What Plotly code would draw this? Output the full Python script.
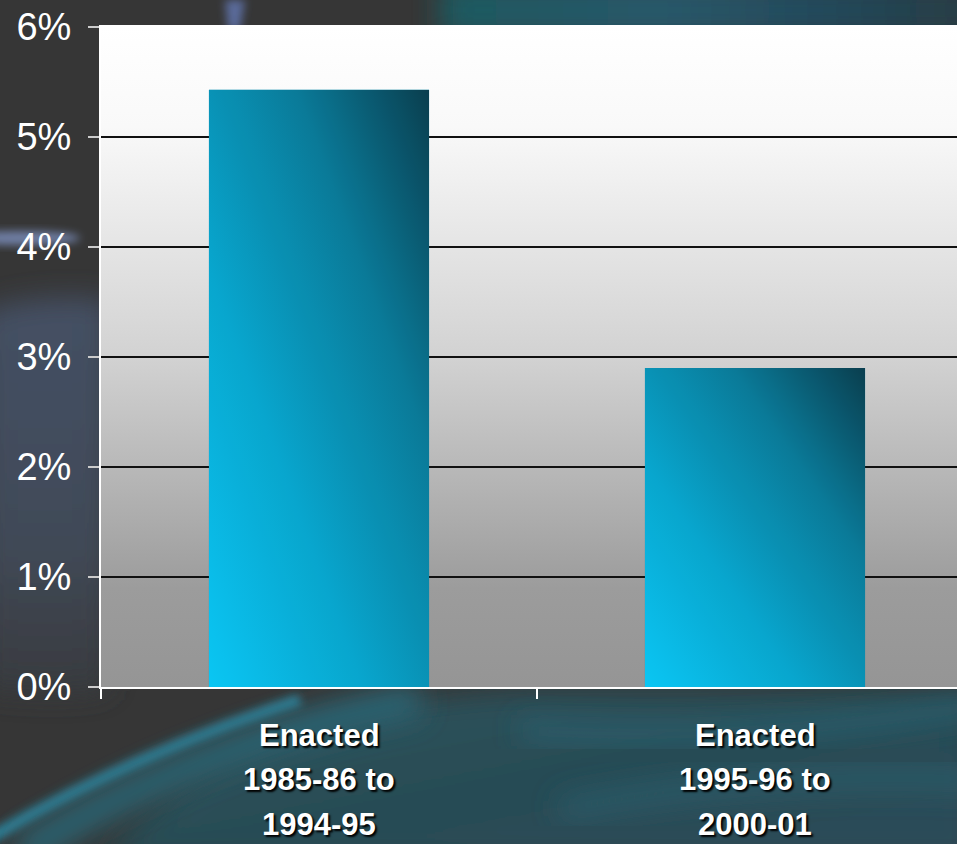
import base64
import plotly.graph_objects as go

# data
categories = ["Enacted<br>1985-86 to<br>1994-95", "Enacted<br>1995-96 to<br>2000-01"]
values = [5.43, 2.9]
y_ticks = [0, 1, 2, 3, 4, 5, 6]

W, H = 957, 844
ML, MR, MT, MB = 101, 0, 27, 157
bar_w = 0.505


def svg_uri(svg):
    return "data:image/svg+xml;base64," + base64.b64encode(svg.encode()).decode()


# dark slide background with teal swirls
bg_svg = f"""<svg xmlns='http://www.w3.org/2000/svg' width='{W}' height='{H}' viewBox='0 0 {W} {H}' preserveAspectRatio='none'>
<defs>
<filter id='b' x='-50%' y='-50%' width='200%' height='200%'><feGaussianBlur stdDeviation='14'/></filter>
<filter id='s' x='-50%' y='-50%' width='200%' height='200%'><feGaussianBlur stdDeviation='4'/></filter>
<linearGradient id='top' x1='0' y1='0' x2='1' y2='0'>
<stop offset='0' stop-color='#1d5a60'/><stop offset='0.4' stop-color='#27586a'/>
<stop offset='0.7' stop-color='#23485a'/><stop offset='1' stop-color='#263a40'/></linearGradient>
<linearGradient id='bot' x1='0' y1='0' x2='1' y2='1'>
<stop offset='0' stop-color='#2c5560'/><stop offset='0.5' stop-color='#284c54'/>
<stop offset='1' stop-color='#2a4c5a'/></linearGradient>
<linearGradient id='left' x1='0' y1='0' x2='0' y2='1'>
<stop offset='0' stop-color='#445064'/><stop offset='0.6' stop-color='#414a58'/>
<stop offset='1' stop-color='#383a3e'/></linearGradient>
</defs>
<rect width='{W}' height='{H}' fill='#363636'/>
<rect x='440' y='-20' width='560' height='60' fill='url(#top)' filter='url(#b)'/>
<path d='M 225 0 L 245 0 L 240 30 L 228 30 Z' fill='#5a6a9a' filter='url(#s)'/>
<path d='M -20 312 Q 40 292 110 300 L 110 690 Q 60 700 -20 690 Z' fill='url(#left)' filter='url(#b)'/>
<ellipse cx='20' cy='238' rx='60' ry='7' fill='#6f7fa5' filter='url(#s)'/>
<path d='M 100 {H+20} Q 230 700 540 690 L {W+20} 690 L {W+20} {H+20} Z' fill='url(#bot)' filter='url(#b)'/>
<path d='M -20 {H} Q 120 760 300 700' stroke='#2f7f96' stroke-width='12' fill='none' filter='url(#s)'/>
<path d='M 20 {H+10} Q 200 740 420 700' stroke='#2a6676' stroke-width='30' fill='none' filter='url(#b)'/>
<path d='M 520 730 Q 750 745 {W+20} 705' stroke='#2c6272' stroke-width='16' fill='none' filter='url(#b)'/>
<path d='M 560 810 Q 760 770 {W+20} 780' stroke='#2b5a68' stroke-width='22' fill='none' filter='url(#b)'/>
</svg>"""

# plot area: white at top fading to gray at bottom
plot_svg = """<svg xmlns='http://www.w3.org/2000/svg' width='100' height='100' viewBox='0 0 100 100' preserveAspectRatio='none'>
<defs><linearGradient id='g' x1='0' y1='0' x2='0' y2='1'>
<stop offset='0' stop-color='#ffffff'/><stop offset='0.15' stop-color='#f9f9f9'/>
<stop offset='0.5' stop-color='#d2d2d2'/><stop offset='0.85' stop-color='#9c9c9c'/>
<stop offset='1' stop-color='#959595'/></linearGradient></defs>
<rect width='100' height='100' fill='url(#g)'/></svg>"""

# cyan bar fill, bright bottom-left to dark teal top-right
bar_svg = """<svg xmlns='http://www.w3.org/2000/svg' width='100' height='100' viewBox='0 0 100 100' preserveAspectRatio='none'>
<defs><linearGradient id='g' x1='0' y1='1' x2='1' y2='0'>
<stop offset='0' stop-color='#0bc8f6'/><stop offset='0.35' stop-color='#08a7cf'/>
<stop offset='0.7' stop-color='#0a7a98'/><stop offset='1' stop-color='#0b3c4c'/></linearGradient></defs>
<rect width='100' height='100' fill='url(#g)'/></svg>"""

pw, ph = W - ML - MR, H - MT - MB
images = [
    dict(source=svg_uri(bg_svg), xref="paper", yref="paper",
         x=-ML / pw, y=1 + MT / ph, sizex=W / pw, sizey=H / ph,
         sizing="stretch", xanchor="left", yanchor="top", layer="below"),
    dict(source=svg_uri(plot_svg), xref="paper", yref="paper",
         x=0, y=1, sizex=1, sizey=1,
         sizing="stretch", xanchor="left", yanchor="top", layer="below"),
]
for i, v in enumerate(values):
    images.append(dict(source=svg_uri(bar_svg), xref="x", yref="y",
                       x=i - bar_w / 2, y=v, sizex=bar_w, sizey=v,
                       sizing="stretch", xanchor="left", yanchor="top",
                       layer="above", opacity=0.97))

# category labels, one annotation per line so the line spacing matches
annotations = []
for i, cat in enumerate(categories):
    for k, line in enumerate(cat.split("<br>")):
        annotations.append(dict(
            x=i, xref="x", y=0, yref="paper", text=line, showarrow=False,
            xanchor="center", yanchor="middle", yshift=-48 - 44.5 * k,
            borderpad=0,
            font=dict(family="Liberation Sans, Arial", size=31, color="white",
                      weight="bold", shadow="2px 2px 2px #000"),
        ))

fig = go.Figure()
fig.add_trace(go.Bar(x=list(range(len(values))), y=values, width=bar_w,
                     marker=dict(color="#0a8fb0", line=dict(width=0)),
                     hoverinfo="skip"))

fig.update_layout(
    width=W, height=H,
    margin=dict(l=ML, r=MR, t=MT, b=MB),
    paper_bgcolor="#363636",
    plot_bgcolor="rgba(0,0,0,0)",
    images=images,
    annotations=annotations,
    showlegend=False,
    xaxis=dict(
        range=[-0.5, -0.5 + pw / 436],
        tickvals=list(range(len(categories))), showticklabels=False,
        ticks="", showgrid=False, zeroline=False,
        showline=True, linecolor="white", linewidth=2, mirror=True,
        minor=dict(tickmode="array", tickvals=[-0.5, 0.5, 1.5], ticks="outside",
                   ticklen=10, tickwidth=2, tickcolor="white", showgrid=False),
    ),
    yaxis=dict(
        range=[0, 6], tickmode="array", tickvals=y_ticks,
        ticktext=[f"{t}%" for t in y_ticks],
        ticks="outside", ticklen=11, tickwidth=2, tickcolor="#cccccc",
        ticklabelstandoff=9,
        showgrid=True, gridcolor="#111111", gridwidth=2,
        zeroline=False, showline=True, linecolor="white", linewidth=2,
        tickfont=dict(family="Liberation Sans, Arial", size=38, color="white"),
    ),
)

fig.write_html("out.html", config={"displayModeBar": False},
               post_script="document.body.style.margin='0';")
